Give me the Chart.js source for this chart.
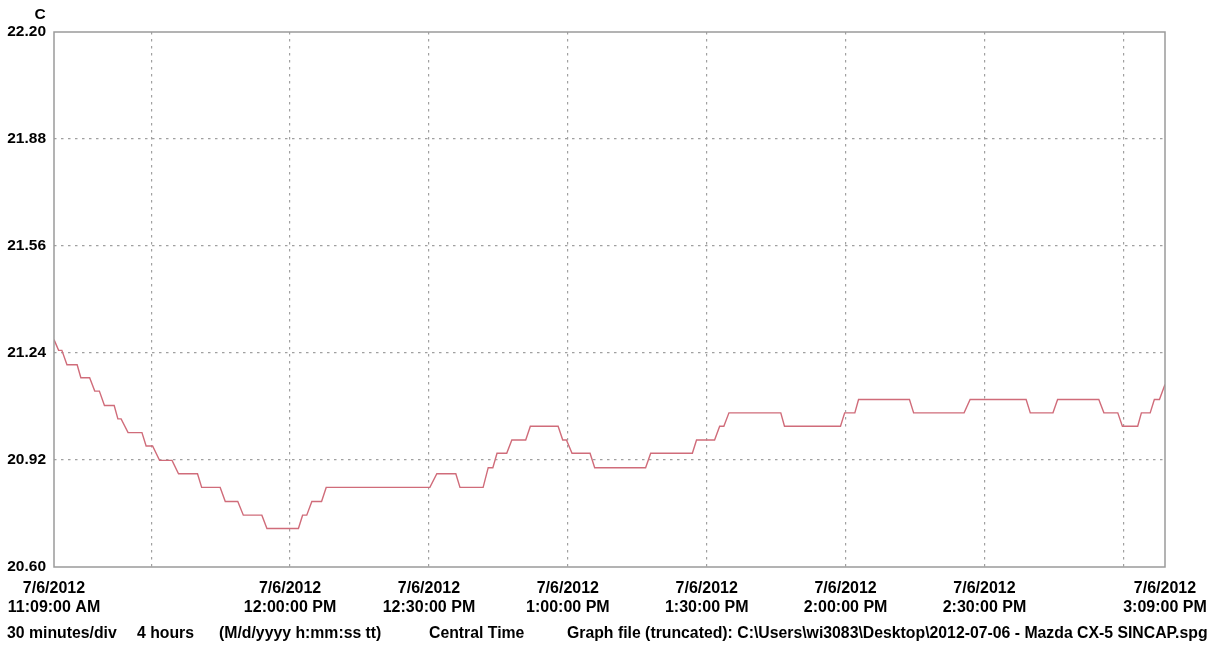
<!DOCTYPE html>
<html>
<head>
<meta charset="utf-8">
<title>Temperature log</title>
<script src="https://cdn.jsdelivr.net/npm/chart.js@4/dist/chart.umd.min.js"></script>
<style>
  html, body { margin: 0; padding: 0; background: #ffffff; }
  #wrap { width: 1217px; height: 646px; }
</style>
</head>
<body>
<div id="wrap"><canvas id="chart" width="1217" height="646"></canvas></div>
<script>
// Logged temperature, minutes after 7/6/2012 11:09:00 AM (Central Time)
const sampleMinutes = [
  0, 1.0, 1.7, 2.8, 5.0, 5.8, 7.7, 8.8, 9.8, 10.9,
  13.0, 13.8, 14.5, 16.0, 19.0, 19.9, 21.3, 22.8, 25.5, 26.9,
  31.0, 31.9, 35.9, 37.0, 39.7, 40.9, 44.9, 46.0, 52.8, 53.7,
  54.6, 55.7, 57.8, 58.8, 81.2, 82.7, 86.8, 87.7, 92.7, 93.8,
  94.8, 95.7, 97.8, 98.9, 101.9, 102.9, 108.9, 109.9, 110.7, 111.9,
  115.8, 116.8, 127.8, 128.9, 137.9, 138.8, 142.7, 143.8, 144.7, 145.8,
  157.0, 157.8, 169.9, 170.8, 173.0, 173.8, 184.8, 185.7, 196.6, 197.9,
  210.0, 210.9, 215.8, 216.8, 225.7, 226.8, 229.8, 230.8, 234.1, 234.9,
  236.8, 237.7, 238.8, 240
];

// Temperature in C at each sample time
const temperatureC = [
  21.280, 21.248, 21.248, 21.205, 21.205, 21.166, 21.166, 21.126, 21.126, 21.083,
  21.083, 21.043, 21.043, 21.002, 21.002, 20.962, 20.962, 20.919, 20.919, 20.879,
  20.879, 20.838, 20.838, 20.796, 20.796, 20.755, 20.755, 20.715, 20.715, 20.755,
  20.755, 20.796, 20.796, 20.838, 20.838, 20.879, 20.879, 20.838, 20.838, 20.897,
  20.897, 20.940, 20.940, 20.980, 20.980, 21.021, 21.021, 20.980, 20.980, 20.940,
  20.940, 20.897, 20.897, 20.940, 20.940, 20.980, 20.980, 21.021, 21.021, 21.061,
  21.061, 21.021, 21.021, 21.061, 21.061, 21.101, 21.101, 21.061, 21.061, 21.101,
  21.101, 21.061, 21.061, 21.101, 21.101, 21.061, 21.061, 21.021, 21.021, 21.061,
  21.061, 21.101, 21.101, 21.146
];

// Time axis: 30 minutes/div, 4 hours span
const xTickMinutes = [0, 21, 51, 81, 111, 141, 171, 201, 231, 240];
const xTickDates = ['7/6/2012', '', '7/6/2012', '7/6/2012', '7/6/2012', '7/6/2012', '7/6/2012', '7/6/2012', '', '7/6/2012'];
const xTickTimes = ['11:09:00 AM', '', '12:00:00 PM', '12:30:00 PM', '1:00:00 PM', '1:30:00 PM', '2:00:00 PM', '2:30:00 PM', '', '3:09:00 PM'];

// Temperature axis
const yTickValues = [20.60, 20.92, 21.24, 21.56, 21.88, 22.20];
const yUnit = 'C';

// Footer captions
const footerTexts = [
  '30 minutes/div',
  '4 hours',
  '(M/d/yyyy h:mm:ss tt)',
  'Central Time',
  'Graph file (truncated): C:\\Users\\wi3083\\Desktop\\2012-07-06 - Mazda CX-5 SINCAP.spg'
];
const footerX = [7, 137, 219, 429, 567];

const FONT_FAMILY = '"Liberation Sans", Arial, Helvetica, sans-serif';
const xLabelFont = { family: FONT_FAMILY, size: 16, weight: 'bold', lineHeight: 1.2 };
const yLabelFont = { family: FONT_FAMILY, size: 15.5, weight: 'bold' };
const GRID_COLOR = '#a0a0a0';
const FRAME_COLOR = '#9a9a9a';

const frameAndText = {
  id: 'frameAndText',
  afterDraw(chart) {
    const { ctx, chartArea: a } = chart;
    ctx.save();
    // plot frame
    ctx.strokeStyle = FRAME_COLOR;
    ctx.lineWidth = 1.5;
    ctx.strokeRect(a.left, a.top, a.right - a.left, a.bottom - a.top);
    // unit label above the value axis
    ctx.fillStyle = '#000';
    ctx.font = 'bold 15.5px ' + FONT_FAMILY;
    ctx.textAlign = 'center';
    ctx.textBaseline = 'middle';
    ctx.fillText(yUnit, 40, 15);
    // footer captions
    ctx.font = 'bold 15.8px ' + FONT_FAMILY;
    ctx.textAlign = 'left';
    footerTexts.forEach((t, i) => ctx.fillText(t, footerX[i], 634));
    ctx.restore();
  }
};

const points = sampleMinutes.map((m, i) => ({ x: m, y: temperatureC[i] }));

new Chart(document.getElementById('chart'), {
  type: 'line',
  data: {
    datasets: [{
      data: points,
      borderColor: 'rgb(208, 108, 122)',
      borderWidth: 1.4,
      pointRadius: 0,
      tension: 0,
      fill: false
    }]
  },
  options: {
    responsive: false,
    animation: false,
    events: [],
    layout: { padding: { top: 32, right: 52, left: 0, bottom: 0 } },
    plugins: { legend: { display: false }, tooltip: { enabled: false }, title: { display: false } },
    scales: {
      x: {
        type: 'linear',
        min: 0,
        max: 240,
        afterBuildTicks(axis) { axis.ticks = xTickMinutes.map(v => ({ value: v })); },
        afterFit(axis) {
          axis.height = 79;
          axis.paddingLeft = 0;
          axis.paddingRight = 0;
        },
        ticks: {
          autoSkip: false,
          maxRotation: 0,
          minRotation: 0,
          color: '#000',
          font: xLabelFont,
          padding: 12,
          callback(value) {
            const i = xTickMinutes.indexOf(value);
            if (i < 0 || !xTickDates[i]) return '';
            return [xTickDates[i], xTickTimes[i]];
          }
        },
        grid: {
          drawTicks: false,
          color: GRID_COLOR,
          lineWidth: (c) => (c.tick && (c.tick.value === 0 || c.tick.value === 240)) ? 0 : 1.2
        },
        border: { display: false, dash: [2.5, 4.5] }
      },
      y: {
        min: 20.6,
        max: 22.2,
        afterBuildTicks(axis) { axis.ticks = yTickValues.map(v => ({ value: v })); },
        afterFit(axis) {
          axis.width = 54;
          axis.paddingTop = 0;
          axis.paddingBottom = 0;
        },
        ticks: {
          color: '#000',
          font: yLabelFont,
          padding: 8,
          callback: (v) => Number(v).toFixed(2)
        },
        grid: {
          drawTicks: false,
          color: GRID_COLOR,
          lineWidth: (c) => (c.tick && (c.tick.value === 20.6 || c.tick.value === 22.2)) ? 0 : 1.2
        },
        border: { display: false, dash: [2.5, 4.5] }
      }
    }
  },
  plugins: [frameAndText]
});
</script>
</body>
</html>
